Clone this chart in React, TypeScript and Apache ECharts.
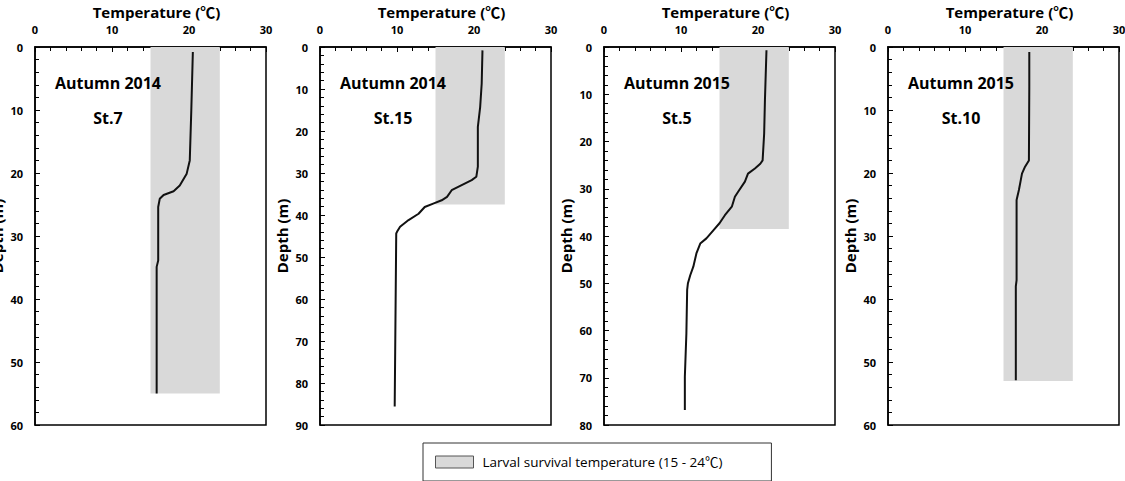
import React, { useEffect, useRef } from "react";
import * as echarts from "echarts";

// Station panels
const seasons = ["Autumn 2014", "Autumn 2014", "Autumn 2015", "Autumn 2015"];
const stations = ["St.7", "St.15", "St.5", "St.10"];
const depthMax = [60, 90, 80, 60];
// Depth (m) down to which the survival band is drawn at each station
const bandDepth = [55, 37.5, 38.5, 53];
// Larval survival temperature range (°C)
const survivalRange = [15, 24];
const bandName = "Larval survival temperature (15 - 24℃)";

// Temperature profiles: depth (m) and temperature (°C)
const st7Depth = [0.8, 10, 18, 20.1, 22, 22.9, 23.5, 24.1, 25.4, 33.9, 34.9, 55];
const st7Temp = [20.5, 20.3, 20.1, 19.7, 18.8, 18.0, 16.7, 16.2, 16.0, 16.0, 15.8, 15.8];

const st15Depth = [0.8, 8.7, 14.3, 19, 28.5, 30.9, 31.7, 32.9, 34.1, 35.7, 36.5, 37.3, 38.1, 39.7, 41.2, 42.8, 44, 44.4, 85.6];
const st15Temp = [21.1, 21.0, 20.8, 20.5, 20.5, 20.3, 19.7, 18.4, 17.1, 16.5, 15.8, 14.7, 13.6, 12.8, 11.5, 10.4, 10.0, 9.9, 9.7];

const st5Depth = [0.7, 11.3, 18.3, 24, 24.7, 25.7, 26.8, 28.5, 30.7, 31.7, 33.8, 35.6, 37.3, 38.8, 40.5, 41.6, 43.7, 46.5, 48.3, 50, 51.4, 60.6, 69.8, 76.8];
const st5Temp = [21.1, 20.9, 20.8, 20.6, 20.3, 19.6, 18.7, 18.3, 17.4, 17.0, 16.6, 15.7, 15.0, 14.2, 13.3, 12.5, 12.0, 11.6, 11.2, 10.9, 10.8, 10.7, 10.5, 10.5];

const st10Depth = [0.8, 6.3, 18, 19, 20.1, 21.4, 22.7, 24.3, 37, 38, 52.9];
const st10Temp = [18.35, 18.35, 18.3, 17.8, 17.4, 17.2, 17.0, 16.7, 16.7, 16.6, 16.6];

const profileDepths = [st7Depth, st15Depth, st5Depth, st10Depth];
const profileTemps = [st7Temp, st15Temp, st5Temp, st10Temp];

// Layout
const FONT = "'Open Sans', 'Noto Sans CJK KR', sans-serif";
const gridLefts = [35, 320, 604, 888];
const GRID_TOP = 47;
const GRID_W = 231;
const GRID_H = 378;

function buildOption(): echarts.EChartsCoreOption {
  const grids: any[] = [];
  const xAxes: any[] = [];
  const yAxes: any[] = [];
  const series: any[] = [];
  const graphics: any[] = [];

  const axisLine = { show: true, onZero: false, lineStyle: { color: "#000", width: 1.5 } };
  const axisTick = { show: true, inside: true, length: 5, lineStyle: { color: "#000", width: 1 } };
  const minorTick = { show: true, splitNumber: 5, length: 4, lineStyle: { color: "#000", width: 1 } };
  const tickLabel = { color: "#000", fontFamily: FONT, fontWeight: "bold", fontSize: 11 };
  const nameStyle = { color: "#000", fontFamily: FONT, fontWeight: "bold", fontSize: 15 };

  for (let i = 0; i < 4; i++) {
    grids.push({
      left: gridLefts[i],
      top: GRID_TOP,
      width: GRID_W,
      height: GRID_H,
      show: true,
      borderColor: "#000",
      borderWidth: 1.5,
      backgroundColor: "transparent",
      outerBoundsMode: "none",
    });
    xAxes.push({
      gridIndex: i,
      type: "value",
      position: "top",
      min: 0,
      max: 30,
      interval: 10,
      axisLine,
      axisTick,
      minorTick,
      splitLine: { show: false },
      minorSplitLine: { show: false },
      axisLabel: { ...tickLabel, margin: 12 },
      name: "Temperature (℃)",
      nameLocation: "middle",
      nameGap: 28,
      nameTextStyle: { ...nameStyle, padding: [0, 0, 0, 12] },
    });
    yAxes.push({
      gridIndex: i,
      type: "value",
      inverse: true,
      min: 0,
      max: depthMax[i],
      interval: 10,
      axisLine,
      axisTick,
      minorTick,
      splitLine: { show: false },
      minorSplitLine: { show: false },
      axisLabel: { ...tickLabel, margin: 12 },
      name: "Depth (m)",
      nameLocation: "middle",
      nameGap: 31,
      nameTextStyle: nameStyle,
    });

    series.push({
      type: "custom",
      name: bandName,
      xAxisIndex: i,
      yAxisIndex: i,
      z: 1,
      itemStyle: { color: "#d9d9d9", borderColor: "#555", borderWidth: 1 },
      encode: { x: [0, 1], y: [2, 3] },
      data: [[survivalRange[0], survivalRange[1], 0, bandDepth[i]]],
      renderItem: (_params: any, api: any) => {
        const p1 = api.coord([api.value(0), api.value(2)]);
        const p2 = api.coord([api.value(1), api.value(3)]);
        return {
          type: "rect",
          shape: { x: p1[0], y: p1[1], width: p2[0] - p1[0], height: p2[1] - p1[1] },
          style: { fill: "#d9d9d9" },
        };
      },
    });

    series.push({
      type: "line",
      name: stations[i],
      xAxisIndex: i,
      yAxisIndex: i,
      z: 3,
      showSymbol: false,
      symbol: "none",
      lineStyle: { color: "#111", width: 2 },
      data: profileDepths[i].map((d, k) => [profileTemps[i][k], d]),
    });

    // Season / station annotation, drawn above the band
    const cx = gridLefts[i] + 73;
    [seasons[i], stations[i]].forEach((label, row) => {
      graphics.push({
        type: "text",
        x: cx,
        y: row === 0 ? 83 : 118,
        z: 100,
        zlevel: 0,
        style: {
          text: label,
          fill: "#000",
          font: `bold 16px ${FONT}`,
          align: "center",
          verticalAlign: "middle",
        },
      });
    });
  }

  return {
    animation: false,
    backgroundColor: "#fff",
    grid: grids,
    xAxis: xAxes,
    yAxis: yAxes,
    series,
    graphic: graphics,
    legend: {
      show: true,
      left: 423,
      top: 443,
      orient: "horizontal",
      padding: [11, 49, 11, 12],
      borderColor: "#333",
      borderWidth: 1,
      borderRadius: 0,
      itemWidth: 38,
      itemHeight: 12,
      selectedMode: false,
      data: [{ name: bandName, icon: "rect", itemStyle: { color: "#d9d9d9", borderColor: "#555", borderWidth: 1 } }],
      textStyle: { color: "#000", fontFamily: FONT, fontSize: 13.5, lineHeight: 16, padding: [0, 0, 0, 4] },
    },
  };
}

export default function App() {
  const ref = useRef<HTMLDivElement>(null);
  useEffect(() => {
    document.body.style.margin = "0";
    if (!ref.current) return;
    const chart = echarts.init(ref.current, undefined, { renderer: "svg" });
    chart.setOption(buildOption());
    return () => chart.dispose();
  }, []);
  return <div ref={ref} style={{ width: 1125, height: 481 }} />;
}
